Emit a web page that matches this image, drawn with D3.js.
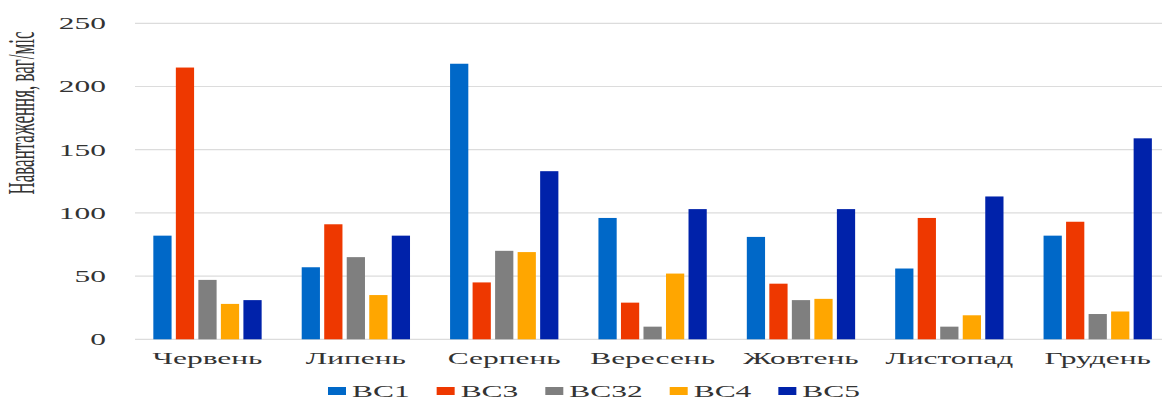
<!DOCTYPE html>
<html>
<head>
<meta charset="utf-8">
<script src="https://cdn.jsdelivr.net/npm/d3@7"></script>
<style>
  html, body { margin: 0; padding: 0; background: #fff; }
  svg { display: block; }
  text { font-family: "Liberation Serif", "DejaVu Serif", serif; fill: #333; }
</style>
</head>
<body>
<svg id="chart" width="1162" height="401"></svg>
<script>
// Monthly load by station
const months = ["Червень", "Липень", "Серпень", "Вересень", "Жовтень", "Листопад", "Грудень"];
const seriesNames = ["BC1", "BC3", "BC32", "BC4", "BC5"];
const bc1  = [82, 57, 218, 96, 81, 56, 82];
const bc3  = [215, 91, 45, 29, 44, 96, 93];
const bc32 = [47, 65, 70, 10, 31, 10, 20];
const bc4  = [28, 35, 69, 52, 32, 19, 22];
const bc5  = [31, 82, 133, 103, 103, 113, 159];
const yTicks = [0, 50, 100, 150, 200, 250];
const yTitle = "Навантаження, ваг/міс";

const seriesValues = [bc1, bc3, bc32, bc4, bc5];
const colors = ["#0068c8", "#ee3800", "#7f7f7f", "#ffa600", "#0022aa"];

const svg = d3.select("#chart");
const W = 1162, H = 401;
const stretch = 1.85;   // wide lettering
const fontSize = 17;

const x0 = d3.scaleBand().domain(months).range([133.3, 1171.9])
  .paddingInner(0.27).paddingOuter(0.135);
const x1 = d3.scaleBand().domain(seriesNames).range([0, x0.bandwidth()]).paddingInner(0.19);
const y = d3.scaleLinear().domain([0, 250]).range([339.3, 23.3]);
const color = d3.scaleOrdinal().domain(seriesNames).range(colors);

// grid lines
svg.append("g").selectAll("line").data(yTicks).join("line")
  .attr("x1", 135).attr("x2", W)
  .attr("y1", d => y(d)).attr("y2", d => y(d))
  .attr("stroke", "#dcdcdc").attr("stroke-width", 1.2);

// y tick labels
svg.append("g").selectAll("text").data(yTicks).join("text")
  .attr("transform", d => `translate(106,${y(d)}) scale(${stretch},1)`)
  .attr("text-anchor", "end").attr("dy", "0.35em")
  .attr("font-size", fontSize)
  .text(d => d);

// y axis title
svg.append("text")
  .attr("transform", `translate(34,113) scale(2.2,1) rotate(-90)`)
  .attr("text-anchor", "middle")
  .attr("font-size", fontSize)
  .text(yTitle);

// bars
const rows = months.map((m, i) => ({ month: m, values: seriesNames.map((s, j) => ({ key: s, value: seriesValues[j][i] })) }));
svg.append("g").selectAll("g").data(rows).join("g")
  .attr("transform", d => `translate(${x0(d.month)},0)`)
  .selectAll("rect").data(d => d.values).join("rect")
  .attr("x", d => x1(d.key))
  .attr("width", x1.bandwidth())
  .attr("y", d => y(d.value))
  .attr("height", d => y(0) - y(d.value))
  .attr("fill", d => color(d.key));

// month labels
svg.append("g").selectAll("text").data(months).join("text")
  .attr("transform", d => `translate(${x0(d) + x0.bandwidth() / 2},363.5) scale(${stretch},1)`)
  .attr("text-anchor", "middle")
  .attr("font-size", fontSize)
  .text(d => d);

// legend
const legend = svg.append("g");
const sw = 18, sh = 8, gapText = 6, gapItem = 27;
let cx = 0;
seriesNames.forEach(s => {
  const g = legend.append("g");
  g.append("rect").attr("x", 0).attr("y", -sh / 2).attr("width", sw).attr("height", sh).attr("fill", color(s));
  const t = g.append("text")
    .attr("transform", `translate(${sw + gapText},0) scale(${stretch},1)`)
    .attr("dy", "0.35em").attr("font-size", fontSize).text(s);
  const w = sw + gapText + t.node().getComputedTextLength() * stretch;
  g.attr("transform", `translate(${cx},0)`);
  cx += w + gapItem;
});
const total = cx - gapItem;
legend.attr("transform", `translate(${594 - total / 2},391)`);
</script>
</body>
</html>
